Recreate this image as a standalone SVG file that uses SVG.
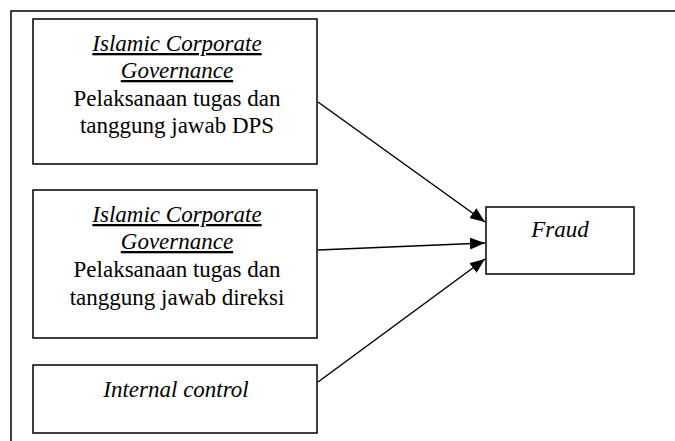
<svg xmlns="http://www.w3.org/2000/svg" width="675" height="441" viewBox="0 0 675 441">
<style>
.box{fill:#fff;stroke:#000;stroke-width:1.5}
.t{font-family:'Liberation Serif','Times New Roman','DejaVu Serif',serif;font-size:23px;fill:#000;text-anchor:middle}
.i{font-style:italic}
.u{text-decoration:underline}
.c{stroke:#000;stroke-width:1.5;fill:none}
</style>
<defs>
<marker id="ah" viewBox="0 0 15 12" refX="15" refY="6" markerWidth="15" markerHeight="12" markerUnits="userSpaceOnUse" orient="auto">
<path d="M0,0 L15,6 L0,12 z" fill="#000"/>
</marker>
</defs>
<g id="frame">
<path d="M11,441 V11 H675" class="c"/>
</g>
<g id="n1">
<rect x="33" y="19" width="284" height="145" class="box"/>
<text x="177" y="51" class="t i u">Islamic Corporate</text>
<text x="177" y="78" class="t i u">Governance</text>
<text x="177" y="106" class="t">Pelaksanaan tugas dan</text>
<text x="177" y="133" class="t">tanggung jawab DPS</text>
</g>
<g id="n2">
<rect x="33" y="190" width="284" height="148" class="box"/>
<text x="177" y="222" class="t i u">Islamic Corporate</text>
<text x="177" y="249" class="t i u">Governance</text>
<text x="177" y="277" class="t">Pelaksanaan tugas dan</text>
<text x="177" y="305" class="t">tanggung jawab direksi</text>
</g>
<g id="n3">
<rect x="33" y="365" width="284" height="68" class="box"/>
<text x="176" y="397" class="t i">Internal control</text>
</g>
<g id="n4">
<rect x="486" y="207" width="148" height="67" class="box"/>
<text x="560" y="237" class="t i">Fraud</text>
</g>
<g id="connectors">
<line x1="318" y1="102" x2="485" y2="222" class="c" marker-end="url(#ah)"/>
<line x1="318" y1="250" x2="485" y2="243" class="c" marker-end="url(#ah)"/>
<line x1="318" y1="382" x2="485" y2="259" class="c" marker-end="url(#ah)"/>
</g>
</svg>
